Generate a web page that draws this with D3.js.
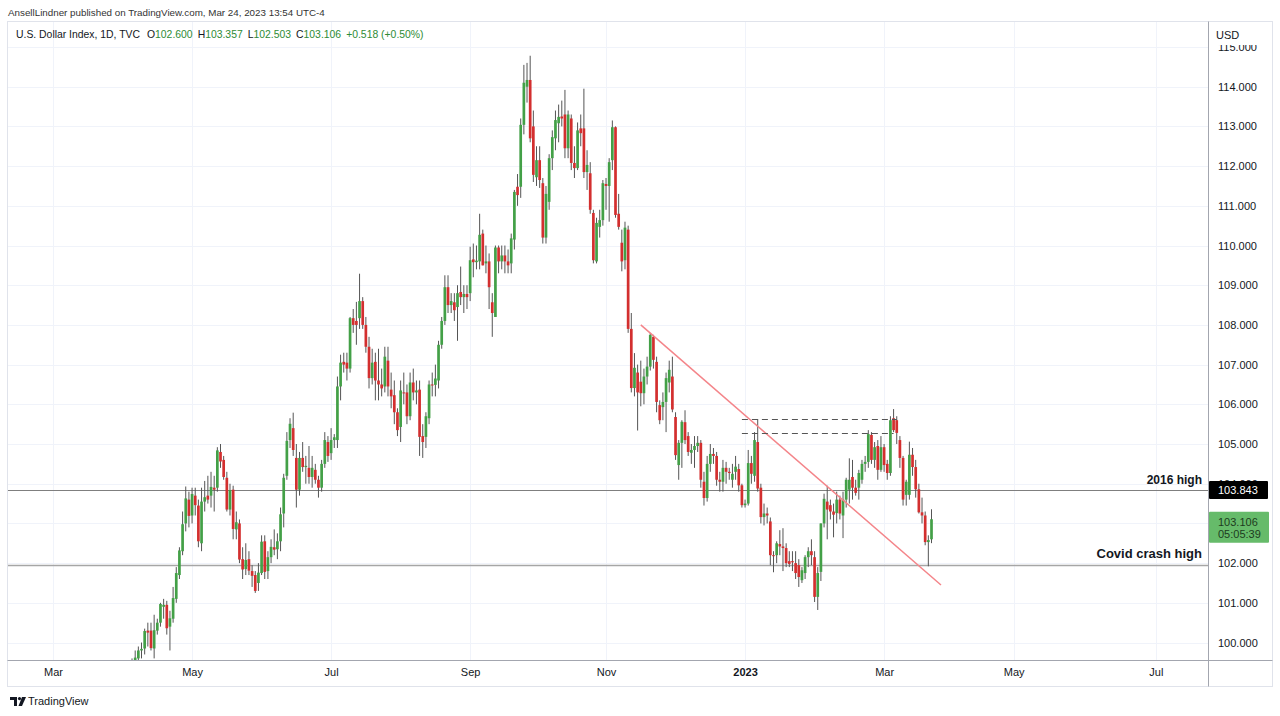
<!DOCTYPE html>
<html>
<head>
<meta charset="utf-8">
<script src="https://cdn.jsdelivr.net/npm/d3@7"></script>
<style>
  html, body { margin: 0; padding: 0; background: #fff; }
  svg { display: block; }
  text { font-family: "Liberation Sans", Arial, sans-serif; }
</style>
</head>
<body>
<svg id="chart" width="1280" height="716"></svg>
<script>
// DXY daily candles, one entry per weekday starting at firstBar
const firstBar = "2022-04-01";

const opens = [
  98.3, 98.95, 99.0, 99.5, 99.6, 99.8, 99.85, 100.3, 100.3, 99.85, 100.3, 100.5, 100.9, 100.95, 100.4, 100.6, 101.1, 101.7, 102.3, 103.0, 103.6, // apr
  103.2, 103.7, 103.45, 102.5, 103.55, 103.7, 103.7, 103.9, 103.9, 104.8, 104.6, 104.15, 103.35, 103.85, 102.85, 103.0, 102.1, 101.85, 102.1, 101.8, 101.7, 101.5, // may
  101.75, 102.55, 101.8, 102.15, 102.4, 102.35, 102.55, 103.25, 104.2, 105.1, 105.4, 104.65, 103.85, 104.65, 104.42, 104.4, 104.17, 104.35, 104.1, 103.9, 104.5, 105.05, // jun
  104.77, 105.1, 105.1, 106.45, 107.07, 107.05, 106.9, 108.17, 108.1, 108.17, 108.6, 108.0, 107.45, 106.66, 107.07, 106.6, 106.5, 106.45, 107.1, 106.37, 106.23, // jul
  105.8, 105.43, 106.3, 106.3, 105.7, 106.55, 106.3, 106.37, 105.2, 105.18, 105.65, 106.5, 106.49, 106.6, 107.5, 108.1, 108.95, 108.5, 108.57, 108.45, 108.83, 108.7, 108.78, // aug
  108.8, 109.65, 109.58, 109.6, 110.3, 109.55, 109.6, 108.57, 108.2, 109.95, 109.6, 109.75, 109.6, 109.55, 110.15, 111.48, 111.48, 113.04, 114.0, 114.17, 113.0, 111.72, // sep
  112.15, 111.57, 110.2, 111.1, 112.2, 112.7, 113.08, 113.25, 113.3, 112.45, 113.2, 112.08, 111.95, 112.95, 112.95, 111.85, 111.82, 110.82, 109.6, 110.47, 110.64, // oct
  111.55, 111.5, 112.15, 112.98, 110.8, 110.07, 109.63, 110.4, 107.9, 106.41, 106.8, 106.57, 106.28, 106.7, 106.95, 107.7, 107.07, 105.98, 105.93, 106.06, 106.55, 106.7, // nov
  105.68, 104.47, 105.03, 105.55, 105.2, 104.78, 104.85, 104.95, 105.03, 104.05, 103.64, 104.5, 104.75, 104.7, 104.1, 104.05, 104.4, 104.3, 104.1, 104.3, 104.37, 103.96, // dec
  103.46, 103.5, 104.52, 104.2, 105.05, 103.9, 103.16, 103.25, 103.05, 102.2, 102.2, 102.48, 102.42, 102.38, 102.05, 102.05, 102.0, 101.95, 101.57, 101.75, 102.15, 102.3, // jan
  102.15, 101.15, 101.78, 103.0, 103.55, 103.46, 103.3, 103.26, 103.6, 103.2, 103.6, 103.85, 104.17, 103.9, 103.9, 104.1, 104.5, 104.55, 105.23, 104.6, // feb
  104.95, 104.35, 104.92, 104.5, 104.27, 105.65, 105.6, 105.1, 104.65, 103.72, 103.72, 104.73, 104.42, 103.86, 103.28, 103.2, 102.53, 102.6 // mar
];
const highs = [
  99.1, 99.2, 99.6, 99.8, 99.9, 100.0, 100.35, 100.5, 100.5, 100.7, 100.6, 101.0, 101.1, 101.05, 100.8, 101.4, 101.9, 102.4, 103.3, 103.93, 103.8,
  103.9, 103.9, 103.6, 103.9, 104.07, 104.2, 104.3, 104.2, 104.92, 105.0, 104.7, 104.3, 104.0, 103.95, 103.3, 103.1, 102.4, 102.5, 102.3, 101.95, 101.8, 102.0,
  102.7, 102.7, 102.3, 102.6, 102.85, 102.75, 103.4, 104.25, 105.3, 105.65, 105.79, 105.0, 104.8, 105.05, 104.7, 104.95, 104.7, 104.5, 104.2, 104.6, 105.3, 105.2,
  105.4, 105.25, 106.7, 107.25, 107.3, 107.3, 108.2, 108.4, 108.58, 109.29, 108.7, 108.2, 107.7, 107.4, 107.3, 107.4, 106.9, 107.45, 107.45, 106.8, 106.6,
  105.9, 106.6, 106.8, 106.5, 106.8, 106.9, 106.6, 106.6, 105.5, 105.8, 106.6, 106.8, 107.0, 107.6, 108.2, 109.25, 109.25, 108.8, 108.8, 109.0, 109.47, 109.0, 109.0,
  109.97, 110.05, 110.0, 110.8, 110.4, 110.0, 109.8, 108.8, 110.0, 110.0, 110.0, 110.0, 109.9, 110.3, 111.4, 111.8, 113.2, 114.55, 114.6, 114.78, 113.4, 112.5,
  112.5, 111.7, 111.5, 112.3, 112.9, 113.4, 113.55, 113.65, 113.92, 113.4, 113.3, 112.5, 113.1, 113.3, 113.95, 112.4, 112.1, 110.9, 110.7, 110.9, 111.65,
  111.7, 112.2, 113.15, 113.0, 111.3, 110.4, 110.6, 110.5, 108.3, 107.29, 107.0, 107.1, 106.9, 107.2, 107.8, 107.75, 107.2, 106.1, 106.3, 106.8, 107.1, 107.2,
  105.8, 105.1, 105.6, 105.85, 105.3, 105.0, 105.2, 105.2, 105.1, 104.3, 104.7, 105.0, 104.9, 104.8, 104.3, 104.6, 104.55, 104.4, 104.5, 104.7, 104.5, 104.0,
  103.6, 104.85, 104.7, 105.3, 105.63, 104.0, 103.5, 103.4, 103.15, 102.3, 102.55, 102.83, 102.88, 102.5, 102.3, 102.3, 102.3, 102.1, 101.9, 102.2, 102.4, 102.6,
  102.3, 101.9, 103.0, 103.75, 103.95, 103.6, 103.5, 103.8, 103.7, 103.8, 104.15, 104.64, 104.6, 104.1, 104.35, 104.6, 104.7, 105.35, 105.3, 105.05,
  105.1, 105.2, 105.0, 104.6, 105.7, 105.88, 105.7, 105.2, 104.7, 104.1, 105.06, 104.9, 104.6, 104.0, 103.65, 103.3, 102.7, 103.357
];
const lows = [
  98.2, 98.7, 98.9, 99.3, 99.4, 99.6, 99.7, 99.9, 99.8, 99.6, 100.2, 100.4, 100.6, 100.2, 99.8, 100.5, 101.0, 101.6, 102.2, 102.8, 102.9,
  103.0, 103.2, 102.4, 102.3, 103.3, 103.5, 103.4, 103.3, 103.8, 104.4, 104.1, 103.3, 103.2, 102.6, 102.6, 102.0, 101.6, 101.7, 101.7, 101.4, 101.25, 101.3,
  101.7, 101.6, 101.6, 102.0, 102.2, 102.1, 102.3, 102.9, 104.1, 104.9, 104.7, 103.4, 103.7, 104.3, 104.0, 104.0, 103.9, 104.0, 103.65, 103.8, 104.4, 104.55,
  104.6, 104.9, 104.9, 106.1, 106.8, 106.6, 106.8, 107.8, 107.5, 107.9, 107.9, 107.3, 106.4, 106.5, 106.1, 106.1, 106.2, 106.3, 106.2, 105.9, 105.5,
  105.2, 105.05, 106.0, 105.5, 105.6, 106.1, 106.0, 104.7, 104.65, 104.9, 105.5, 106.2, 106.2, 106.4, 107.4, 108.0, 108.3, 108.3, 108.1, 107.6, 108.5, 108.3, 108.4,
  108.6, 109.2, 109.4, 109.4, 109.5, 109.3, 108.4, 107.7, 108.2, 109.3, 109.4, 109.3, 109.3, 109.3, 109.9, 111.0, 111.2, 112.8, 113.6, 112.6, 111.6, 111.5,
  111.45, 110.05, 110.05, 110.9, 111.9, 112.4, 112.6, 113.0, 112.2, 112.2, 111.9, 111.7, 111.9, 112.5, 111.7, 111.4, 110.8, 109.55, 109.55, 110.2, 110.5,
  110.9, 110.6, 111.9, 110.7, 110.4, 109.35, 109.4, 107.8, 106.3, 106.2, 105.34, 105.95, 106.0, 106.5, 106.85, 106.9, 105.8, 105.5, 105.6, 105.3, 106.3, 105.8,
  104.6, 104.1, 104.4, 105.0, 104.7, 104.5, 104.4, 104.8, 103.9, 103.45, 103.55, 104.3, 104.5, 103.95, 103.8, 103.8, 104.0, 104.1, 103.9, 104.1, 103.8, 103.4,
  103.4, 103.45, 104.0, 104.05, 103.8, 103.0, 102.95, 103.0, 101.95, 101.77, 102.0, 102.2, 101.8, 101.9, 101.9, 101.8, 101.6, 101.4, 101.5, 101.6, 101.9, 101.95,
  101.02, 100.82, 101.55, 102.9, 102.6, 103.1, 102.65, 103.0, 103.1, 102.63, 103.4, 103.5, 103.6, 103.7, 103.6, 104.0, 104.3, 104.4, 104.5, 104.4,
  104.1, 104.3, 104.3, 104.1, 104.2, 105.3, 105.0, 104.4, 103.45, 103.45, 103.6, 104.2, 103.65, 103.25, 103.0, 102.45, 101.92, 102.503
];
const closes = [
  98.98, 99.01, 99.49, 99.62, 99.80, 99.84, 100.29, 100.25, 99.86, 100.31, 100.50, 100.97, 100.95, 100.36, 100.61, 101.12, 101.75, 102.32, 102.98, 103.63, 103.19,
  103.74, 103.46, 102.55, 103.55, 103.66, 103.60, 103.92, 103.85, 104.84, 104.56, 104.17, 103.35, 103.84, 102.86, 103.03, 102.09, 101.84, 102.08, 101.81, 101.68, 101.30, 101.76,
  102.54, 101.78, 102.15, 102.41, 102.34, 102.55, 103.23, 104.15, 105.08, 105.51, 104.85, 103.85, 104.65, 104.42, 104.45, 104.17, 104.40, 104.10, 103.90, 104.50, 105.10, 104.70,
  105.10, 105.17, 106.45, 107.05, 107.00, 106.90, 108.17, 108.00, 108.00, 108.60, 108.00, 107.45, 106.66, 107.05, 106.60, 106.50, 106.40, 107.20, 106.45, 106.20, 105.80,
  105.35, 106.35, 106.28, 105.70, 106.55, 106.30, 106.35, 105.18, 105.05, 105.70, 106.50, 106.49, 106.65, 107.50, 108.10, 108.95, 108.50, 108.60, 108.37, 108.80, 108.70, 108.78, 108.70,
  109.63, 109.58, 109.62, 110.27, 109.50, 109.60, 108.95, 108.30, 109.95, 109.60, 109.75, 109.60, 109.50, 110.18, 111.35, 111.27, 113.04, 114.10, 114.17, 112.70, 111.78, 112.15,
  111.65, 110.20, 111.30, 112.20, 112.73, 113.16, 113.24, 113.20, 112.45, 113.30, 112.08, 111.95, 112.90, 112.83, 111.85, 112.03, 110.90, 109.63, 110.57, 110.64, 111.57,
  111.50, 112.10, 112.98, 110.77, 110.47, 109.60, 110.45, 107.90, 106.41, 106.92, 106.30, 106.28, 106.70, 106.95, 107.75, 107.12, 106.06, 105.60, 106.06, 106.66, 106.87, 105.87,
  104.72, 105.03, 105.56, 105.10, 104.80, 104.85, 104.95, 105.03, 104.10, 103.64, 104.50, 104.75, 104.70, 104.10, 104.05, 104.40, 104.30, 104.27, 104.25, 104.43, 103.96, 103.46,
  103.50, 104.52, 104.25, 105.10, 103.88, 103.16, 103.25, 103.20, 102.20, 102.18, 102.50, 102.42, 102.38, 102.00, 101.98, 102.02, 101.75, 101.65, 101.82, 102.15, 102.30, 102.20,
  101.15, 101.75, 103.00, 103.62, 103.35, 103.30, 103.22, 103.60, 103.25, 103.60, 104.10, 104.10, 103.90, 103.77, 104.27, 104.50, 104.55, 105.25, 104.60, 104.92,
  104.35, 104.92, 104.47, 104.27, 105.60, 105.35, 105.28, 104.65, 103.60, 104.05, 104.73, 104.42, 103.86, 103.28, 103.20, 102.53, 102.58, 103.106
];

const priceTicks = [100, 101, 102, 103, 104, 105, 106, 107, 108, 109, 110, 111, 112, 113, 114, 115];
const tickDates = ["2022-03-01", "2022-05-02", "2022-07-01", "2022-09-01", "2022-11-01", "2023-01-02", "2023-03-03", "2023-05-01", "2023-07-03"];
const tickLabels = ["Mar", "May", "Jul", "Sep", "Nov", "2023", "Mar", "May", "Jul"];

const levelNames = ["2016 high", "Covid crash high"];
const levelValues = [103.843, 101.95];

const trendDates = ["2022-11-16", "2023-03-29"];
const trendPrices = [108.0, 101.45];

const boxStart = "2022-12-30";
const boxEnds = ["2023-03-09", "2023-03-08"];
const boxPrices = [105.63, 105.29];

const lastClose = 103.106;
const countdown = "05:05:39";

// ---------------------------------------------------------------
const svg = d3.select("#chart");
const pane = { left: 8, right: 1208, top: 22, bottom: 660 };
const green = "#43a047", red = "#d32f2f", wick = "#555";

// weekday calendar -> bar index
const parse = d3.utcParse("%Y-%m-%d");
const days = d3.utcDay.range(parse("2022-03-01"), parse("2023-08-01"))
  .filter(d => d.getUTCDay() !== 0 && d.getUTCDay() !== 6);
const dayIndex = new Map(days.map((d, i) => [+d, i]));
const barIndex = s => dayIndex.get(+parse(s));
const start = barIndex(firstBar);

const bars = closes.map((c, i) => ({
  i: start + i, o: opens[i], h: highs[i], l: lows[i], c: c
}));

const x = d3.scaleLinear().domain([-14.25, 365.5]).range([pane.left, pane.right]);
const y = d3.scaleLinear().domain([99.56, 115.63]).range([pane.bottom, pane.top]);

svg.append("defs").append("clipPath").attr("id", "pane")
  .append("rect")
  .attr("x", pane.left).attr("y", pane.top)
  .attr("width", pane.right - pane.left).attr("height", pane.bottom - pane.top);

// grid
const grid = svg.append("g");
grid.selectAll("line.h").data(priceTicks).enter().append("line")
  .attr("x1", pane.left).attr("x2", pane.right)
  .attr("y1", d => Math.round(y(d)) + 0.5).attr("y2", d => Math.round(y(d)) + 0.5)
  .style("stroke", "#f0f3fa");
grid.selectAll("line.v").data(tickDates).enter().append("line")
  .attr("x1", d => Math.round(x(barIndex(d))) + 0.5).attr("x2", d => Math.round(x(barIndex(d))) + 0.5)
  .attr("y1", pane.top).attr("y2", pane.bottom)
  .style("stroke", "#f0f3fa");

// horizontal levels
svg.append("g").selectAll("line").data(levelValues).enter().append("line")
  .attr("x1", pane.left).attr("x2", pane.right)
  .attr("y1", d => Math.round(y(d)) + 0.5).attr("y2", d => Math.round(y(d)) + 0.5)
  .style("stroke", (d, i) => i === 0 ? "#7f7f7f" : "#a6a6a6")
  .style("stroke-width", (d, i) => i === 0 ? 1 : 1.4);

// candles
const plot = svg.append("g").attr("clip-path", "url(#pane)");
const candle = plot.selectAll("g.bar").data(bars).enter().append("g");
candle.append("line")
  .attr("x1", d => x(d.i)).attr("x2", d => x(d.i))
  .attr("y1", d => y(d.h)).attr("y2", d => y(d.l))
  .style("stroke", wick).style("stroke-width", 1);
candle.append("rect")
  .attr("x", d => x(d.i) - 1.35).attr("width", 2.7)
  .attr("y", d => y(Math.max(d.o, d.c)))
  .attr("height", d => Math.max(1, Math.abs(y(d.o) - y(d.c))))
  .style("fill", d => d.c >= d.o ? green : red);

// trend line
plot.append("line")
  .attr("x1", x(barIndex(trendDates[0]))).attr("y1", y(trendPrices[0]))
  .attr("x2", x(barIndex(trendDates[1]))).attr("y2", y(trendPrices[1]))
  .style("stroke", "#f4858a").style("stroke-width", 1.5);

// dashed highs
plot.selectAll("line.dash").data(boxPrices).enter().append("line")
  .attr("x1", x(barIndex(boxStart)))
  .attr("x2", (d, i) => x(barIndex(boxEnds[i])))
  .attr("y1", d => Math.round(y(d)) + 0.5).attr("y2", d => Math.round(y(d)) + 0.5)
  .style("stroke", "#555").style("stroke-dasharray", "6,4");

// level captions
svg.append("g").selectAll("text").data(levelValues).enter().append("text")
  .attr("x", pane.right - 6)
  .attr("y", (d, i) => y(d) - (i === 0 ? 6 : 7))
  .attr("text-anchor", "end")
  .style("font-size", (d, i) => i === 0 ? "12px" : "13px")
  .style("font-weight", "bold")
  .style("fill", "#131722")
  .text((d, i) => levelNames[i]);

// frame and axis lines
svg.append("rect")
  .attr("x", 7.5).attr("y", 21.5).attr("width", 1265).attr("height", 665)
  .style("fill", "none").style("stroke", "#e0e3eb");
svg.append("line").attr("x1", pane.right + 0.5).attr("x2", pane.right + 0.5)
  .attr("y1", 21.5).attr("y2", 686.5).style("stroke", "#a3a6af");
svg.append("line").attr("x1", 7.5).attr("x2", 1272.5)
  .attr("y1", pane.bottom + 0.5).attr("y2", pane.bottom + 0.5).style("stroke", "#a3a6af");

// price axis
const yAxis = svg.append("g")
  .attr("transform", `translate(${pane.right},0)`)
  .call(d3.axisRight(y).tickValues(priceTicks).tickFormat(d3.format(".3f")).tickSize(0).tickPadding(10));
yAxis.select(".domain").remove();
yAxis.selectAll("text")
  .style("font-family", "'Liberation Sans', Arial, sans-serif")
  .style("font-size", "11px").style("fill", "#131722");

// currency label covering the top tick
svg.append("rect").attr("x", pane.right + 1).attr("y", 22).attr("width", 63).attr("height", 23)
  .style("fill", "#fff");
svg.append("text").attr("x", 1216).attr("y", 39)
  .style("font-size", "11px").style("fill", "#131722").text("USD");

// time axis
const xAxis = svg.append("g")
  .attr("transform", `translate(0,${pane.bottom})`)
  .call(d3.axisBottom(x).tickValues(tickDates.map(barIndex))
    .tickFormat((d, i) => tickLabels[i]).tickSize(0).tickPadding(8));
xAxis.select(".domain").remove();
xAxis.selectAll("text")
  .style("font-family", "'Liberation Sans', Arial, sans-serif")
  .style("font-size", "11px").style("fill", "#131722")
  .style("font-weight", (d, i) => tickLabels[i] === "2023" ? "bold" : "normal");

// price tags
const lvlY = y(levelValues[0]);
svg.append("rect").attr("x", 1209).attr("y", lvlY - 9).attr("width", 59).attr("height", 18)
  .attr("rx", 1).style("fill", "#000");
svg.append("text").attr("x", 1218).attr("y", lvlY + 4)
  .style("font-size", "11px").style("fill", "#fff").text(d3.format(".3f")(levelValues[0]));

const lastY = y(lastClose);
svg.append("rect").attr("x", 1209).attr("y", lastY - 7.5).attr("width", 60).attr("height", 31)
  .attr("rx", 1).style("fill", "#66bb6a");
svg.append("text").attr("x", 1218).attr("y", lastY + 6.5)
  .style("font-size", "11px").style("fill", "#1d3b1e").text(d3.format(".3f")(lastClose));
svg.append("text").attr("x", 1218).attr("y", lastY + 18.5)
  .style("font-size", "11px").style("fill", "#1d3b1e").text(countdown);

// header lines
function fitWidth(sel, w) {
  const len = sel.node().getComputedTextLength();
  sel.style("font-size", (11 * w / len).toFixed(2) + "px");
}
const head = svg.append("text").attr("x", 8).attr("y", 16)
  .style("font-size", "11px").style("fill", "#333")
  .text("AnsellLindner published on TradingView.com, Mar 24, 2023 13:54 UTC-4");
fitWidth(head, 317);

const last = bars[bars.length - 1];
const f3 = d3.format(".3f");
const legend = svg.append("text").attr("x", 16).attr("y", 38)
  .style("font-size", "11px").style("fill", "#131722");
legend.append("tspan").text("U.S. Dollar Index, 1D, TVC");
[["O", last.o], ["H", last.h], ["L", last.l], ["C", last.c]].forEach((p, k) => {
  legend.append("tspan").attr("dx", k === 0 ? 7 : 5).text(p[0]);
  legend.append("tspan").style("fill", "#2e8b35").text(f3(p[1]));
});
legend.append("tspan").attr("dx", 5).style("fill", "#2e8b35").text("+0.518 (+0.50%)");
fitWidth(legend, 381);

// footer logo
const logo = svg.append("g").attr("transform", "translate(10,697)");
logo.append("path").attr("d", "M0,0 H7 V9 H4 V3 H0 Z").style("fill", "#131722");
logo.append("circle").attr("cx", 9.5).attr("cy", 1.6).attr("r", 1.6).style("fill", "#131722");
logo.append("path").attr("d", "M12,0 H16 L12,9 H8.5 Z").style("fill", "#131722");
svg.append("text").attr("x", 28).attr("y", 705)
  .style("font-size", "11px").style("fill", "#131722").text("TradingView");
</script>
</body>
</html>
